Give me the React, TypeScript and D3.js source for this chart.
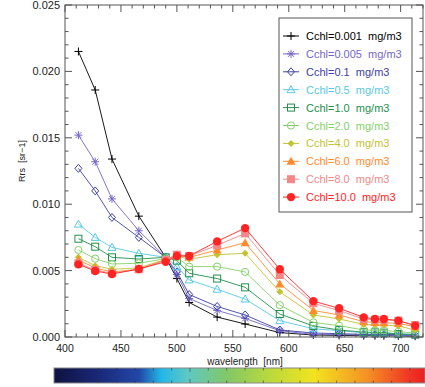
import React from "react";
import * as d3 from "d3";

const wavelengths = [412, 427, 442, 466, 490, 500, 511, 536, 561, 592, 622, 645, 667, 677, 685, 698, 713];

const chl0001 = [0.0215, 0.0186, 0.0134, 0.0091, 0.0060, 0.0044, 0.0026, 0.0015, 0.00098, 0.00033, 0.00015, 0.00012, 0.0001, 0.0001, 0.0001, 0.00008, 0.00006];
const chl0005 = [0.0152, 0.0132, 0.0104, 0.0080, 0.0060, 0.0047, 0.0029, 0.0020, 0.0014, 0.00047, 0.0002, 0.00018, 0.00015, 0.00015, 0.00014, 0.00012, 0.0001];
const chl01 = [0.0127, 0.0110, 0.0090, 0.0075, 0.0060, 0.0049, 0.0032, 0.0023, 0.00166, 0.00053, 0.0003, 0.00025, 0.0002, 0.0002, 0.0002, 0.00018, 0.00015];
const chl05 = [0.0085, 0.0075, 0.00675, 0.0063, 0.0060, 0.0053, 0.0043, 0.0036, 0.00286, 0.00123, 0.00062, 0.00048, 0.00032, 0.0003, 0.0003, 0.00025, 0.0002];
const chl1 = [0.0074, 0.0068, 0.0060, 0.00587, 0.0060, 0.00575, 0.0048, 0.0044, 0.00374, 0.00173, 0.00083, 0.00053, 0.00036, 0.00035, 0.00033, 0.00022, 0.00018];
const chl2 = [0.00655, 0.0059, 0.0055, 0.00555, 0.0059, 0.0060, 0.0053, 0.0053, 0.0049, 0.0024, 0.0011, 0.00085, 0.00053, 0.0005, 0.0005, 0.0004, 0.0003];
const chl4 = [0.0060, 0.00537, 0.0051, 0.0052, 0.00585, 0.0061, 0.00585, 0.0062, 0.0063, 0.0034, 0.00166, 0.00136, 0.00095, 0.0009, 0.0009, 0.00083, 0.00053];
const chl6 = [0.0058, 0.0052, 0.0049, 0.0051, 0.0058, 0.0062, 0.0060, 0.00655, 0.0071, 0.0040, 0.0020, 0.00166, 0.00115, 0.0011, 0.00108, 0.00102, 0.00078];
const chl8 = [0.00555, 0.00505, 0.0048, 0.0051, 0.0058, 0.0062, 0.0061, 0.0069, 0.0078, 0.00467, 0.00254, 0.00198, 0.00136, 0.0013, 0.0013, 0.00123, 0.0009];
const chl10 = [0.00547, 0.00497, 0.00474, 0.00512, 0.00567, 0.0061, 0.0061, 0.0072, 0.0082, 0.0051, 0.0027, 0.00216, 0.00148, 0.00136, 0.00136, 0.00123, 0.00085];

const seriesLabels = ["Cchl=0.001", "Cchl=0.005", "Cchl=0.1", "Cchl=0.5", "Cchl=1.0", "Cchl=2.0", "Cchl=4.0", "Cchl=6.0", "Cchl=8.0", "Cchl=10.0"];
const seriesValues = [chl0001, chl0005, chl01, chl05, chl1, chl2, chl4, chl6, chl8, chl10];
const seriesColors = ["#000000", "#7466c8", "#3c40a8", "#58c8e6", "#20904c", "#84d068", "#c2c232", "#ff8a2c", "#f28888", "#ff2424"];
const seriesMarkers = ["plus", "star", "diamond", "triangle", "square", "circle", "fdiamond", "ftriangle", "fsquare", "fcircle"];

const xTicks = [400, 450, 500, 550, 600, 650, 700];
const yTicks = [0, 0.005, 0.01, 0.015, 0.02, 0.025];

const FONT = "'Liberation Sans', Arial, Helvetica, sans-serif";

function Marker({ type, x, y, color }: { type: string; x: number; y: number; color: string }) {
  const s = 3.5;
  switch (type) {
    case "plus":
      return <path d={`M${x - 4},${y}H${x + 4}M${x},${y - 4}V${y + 4}`} stroke={color} strokeWidth={1} fill="none" />;
    case "star":
      return (
        <path
          d={`M${x - 4},${y}H${x + 4}M${x},${y - 4}V${y + 4}M${x - 3},${y - 3}L${x + 3},${y + 3}M${x - 3},${y + 3}L${x + 3},${y - 3}`}
          stroke={color}
          strokeWidth={1}
          fill="none"
        />
      );
    case "diamond":
      return <path d={`M${x},${y - s - 0.5}L${x + s},${y}L${x},${y + s + 0.5}L${x - s},${y}Z`} stroke={color} strokeWidth={1} fill="none" />;
    case "triangle":
      return <path d={`M${x},${y - 4}L${x + 4},${y + 3}L${x - 4},${y + 3}Z`} stroke={color} strokeWidth={1} fill="none" />;
    case "square":
      return <rect x={x - 3.5} y={y - 3.5} width={7} height={7} stroke={color} strokeWidth={1} fill="none" />;
    case "circle":
      return <circle cx={x} cy={y} r={3.6} stroke={color} strokeWidth={1} fill="none" />;
    case "fdiamond":
      return <path d={`M${x},${y - 3.5}L${x + 3.5},${y}L${x},${y + 3.5}L${x - 3.5},${y}Z`} fill={color} />;
    case "ftriangle":
      return <path d={`M${x},${y - 4.5}L${x + 4.5},${y + 3.5}L${x - 4.5},${y + 3.5}Z`} fill={color} />;
    case "fsquare":
      return <rect x={x - 4} y={y - 4} width={8} height={8} fill={color} />;
    case "fcircle":
      return <circle cx={x} cy={y} r={4.2} fill={color} />;
    default:
      return null;
  }
}

export default function App() {
  const W = 425;
  const H = 387;
  const left = 65;
  const right = 423;
  const top = 5;
  const bottom = 337;

  const x = d3.scaleLinear().domain([400, 720]).range([left, right]);
  const y = d3.scaleLinear().domain([0, 0.025]).range([bottom, top]);
  const line = d3
    .line<number>()
    .x((_, i) => x(wavelengths[i]))
    .y((d) => y(d));

  const xMinor = d3.range(400, 721, 10);
  const yMinor = d3.range(0, 0.02501, 0.001);
  const axisColor = "#555";

  // colorbar
  const cbX0 = 54;
  const cbX1 = 425;
  const cbY0 = 368;
  const cbY1 = 383;
  const cbStops = [
    [0, "#0e1240"],
    [0.12, "#1a2878"],
    [0.23, "#2248a8"],
    [0.29, "#22b8e8"],
    [0.36, "#5ec8c4"],
    [0.47, "#84c864"],
    [0.57, "#b4d840"],
    [0.7, "#f2e41e"],
    [0.84, "#f49424"],
    [0.96, "#f03424"],
    [1, "#e82020"],
  ];
  const cbTickStep = 18.33;
  const cbTicks = d3.range(-7, 13).map((k) => 190 + k * cbTickStep).filter((v) => v > cbX0 + 2 && v < cbX1 - 1);

  const legX = 279;
  const legY = 18;
  const legW = 133;
  const legH = 194;
  const legRow = 17.9;

  return (
    <svg width={W} height={H} style={{ display: "block", position: "absolute", left: 0, top: 0 }} fontFamily={FONT}>
      <rect x={0} y={0} width={W} height={H} fill="#fff" />
      <defs>
        <linearGradient id="cb" x1="0" x2="1" y1="0" y2="0">
          {cbStops.map(([o, c], i) => (
            <stop key={i} offset={o as number} stopColor={c as string} />
          ))}
        </linearGradient>
      </defs>

      {/* series */}
      {seriesValues.map((vals, si) => (
        <g key={si}>
          <path d={line(vals) || ""} fill="none" stroke={seriesColors[si]} strokeWidth={0.9} />
          {vals.map((v, i) => (
            <Marker key={i} type={seriesMarkers[si]} x={x(wavelengths[i])} y={y(v)} color={seriesColors[si]} />
          ))}
        </g>
      ))}

      {/* axes box */}
      <rect x={left} y={top} width={right - left} height={bottom - top} fill="none" stroke={axisColor} strokeWidth={1} />
      {xMinor.map((t) => {
        const major = t % 50 === 0;
        const len = major ? 7 : 3.5;
        return (
          <g key={t} stroke={axisColor} strokeWidth={1}>
            <line x1={x(t)} x2={x(t)} y1={bottom} y2={bottom - len} />
            <line x1={x(t)} x2={x(t)} y1={top} y2={top + len} />
          </g>
        );
      })}
      {yMinor.map((t, i) => {
        const major = i % 5 === 0;
        const len = major ? 7 : 3.5;
        return (
          <g key={i} stroke={axisColor} strokeWidth={1}>
            <line x1={left} x2={left + len} y1={y(t)} y2={y(t)} />
            <line x1={right} x2={right - len} y1={y(t)} y2={y(t)} />
          </g>
        );
      })}
      {xTicks.map((t) => (
        <text key={t} x={x(t)} y={352} fontSize={10.5} textAnchor="middle" fill="#222">
          {t}
        </text>
      ))}
      {yTicks.map((t) => (
        <text key={t} x={60} y={y(t) + 4} fontSize={11} textAnchor="end" fill="#222">
          {t.toFixed(3)}
        </text>
      ))}
      <text x={245} y={364.5} fontSize={10} textAnchor="middle" fill="#222" style={{ whiteSpace: "pre" }}>
        {"wavelength  [nm]"}
      </text>
      <text transform="translate(25,161) rotate(-90)" fontSize={9} textAnchor="middle" fill="#222" style={{ whiteSpace: "pre" }}>
        {"Rrs  [sr−1]"}
      </text>

      {/* legend */}
      <rect x={legX} y={legY} width={legW} height={legH} fill="#fff" stroke={axisColor} strokeWidth={1} />
      {seriesLabels.map((lab, i) => {
        const cy = 36 + i * legRow;
        return (
          <g key={i}>
            <line x1={283} x2={299} y1={cy} y2={cy} stroke={seriesColors[i]} strokeWidth={1} />
            <Marker type={seriesMarkers[i]} x={291} y={cy} color={seriesColors[i]} />
            <text x={306} y={cy + 4} fontSize={11} fill={seriesColors[i]} style={{ whiteSpace: "pre" }}>
              {lab + "  mg/m3"}
            </text>
          </g>
        );
      })}

      {/* colorbar */}
      <rect x={cbX0} y={cbY0} width={cbX1 - cbX0} height={cbY1 - cbY0} fill="url(#cb)" stroke="#888" strokeWidth={1} />
      {cbTicks.map((t, i) => {
        const major = Math.abs(((t - 190) / cbTickStep) % 5) < 0.01;
        const len = major ? 4 : 2.5;
        return (
          <g key={i} stroke="#333" strokeWidth={0.8} opacity={0.7}>
            <line x1={t} x2={t} y1={cbY0} y2={cbY0 + len} />
            <line x1={t} x2={t} y1={cbY1} y2={cbY1 - len} />
          </g>
        );
      })}
    </svg>
  );
}
